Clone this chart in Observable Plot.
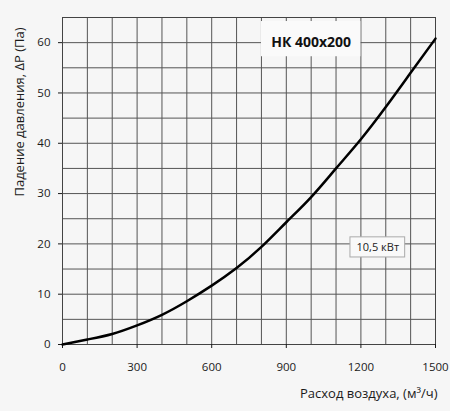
<!DOCTYPE html>
<html><head><meta charset="utf-8">
<script src="https://cdn.jsdelivr.net/npm/d3@7"></script>
<script src="https://cdn.jsdelivr.net/npm/@observablehq/plot@0.6"></script>
<style>
html,body{margin:0;padding:0;background:#f6f6f6;}
svg{background:#f6f6f6;}
</style></head><body>
<div id="chart"></div>
<script>
const flow = [0, 100, 200, 300, 400, 500, 600, 700, 800, 900, 1000, 1100, 1200, 1300, 1400, 1500];
const pressure = [0, 1.0, 2.1, 3.8, 5.9, 8.6, 11.7, 15.2, 19.4, 24.3, 29.3, 35.0, 40.8, 47.2, 54.0, 60.8];
const xTicks = [0, 300, 600, 900, 1200, 1500];
const yTicks = [0, 10, 20, 30, 40, 50, 60];
const xGrid = d3.range(0, 1501, 100);
const yGrid = d3.range(0, 66, 5);
const title = "НК 400x200";
const power = "10,5 кВт";
const xLabel = "Расход воздуха, (м³/ч)";
const yLabel = "Падение давления, ΔP (Па)";

const data = flow.map((f, i) => ({f, p: pressure[i]}));

const chart = Plot.plot({
  width: 450, height: 411,
  marginLeft: 62, marginRight: 15, marginTop: 17, marginBottom: 67,
  style: {fontFamily: "'Open Sans', sans-serif", fontSize: "11.5px", color: "#1a1a1a", background: "#f6f6f6"},
  x: {domain: [0, 1500]},
  y: {domain: [0, 65]},
  marks: [
    Plot.ruleX(xGrid, {stroke: "#555", strokeWidth: 1}),
    Plot.ruleY(yGrid, {stroke: "#555", strokeWidth: 1}),
    Plot.frame({stroke: "#444"}),
    Plot.axisX({ticks: xTicks, tickFormat: d => String(d), tickSize: 4, tickPadding: 14, label: null, fontSize: 11.5}),
    Plot.axisY({ticks: yTicks, tickFormat: d => String(d), tickSize: 4, tickPadding: 8, label: null, fontSize: 11.5}),
    Plot.rect([title], {x1: 800, x2: 1200, y1: 57.2, y2: 64.2, fill: "#fafafa"}),
    Plot.text([title], {x: 1000, y: 60, text: d => d, fontWeight: "bold", fontSize: 14, fill: "#111"}),
    Plot.rect([power], {x1: 1158, x2: 1378, y1: 17.3, y2: 21.3, fill: "#f9f9f9", stroke: "#aaa"}),
    Plot.text([power], {x: 1268, y: 19.3, text: d => d, fontSize: 11, fill: "#222"}),
    Plot.line(data, {x: "f", y: "p", stroke: "#000", strokeWidth: 2.5, curve: "natural"}),
    Plot.text([xLabel], {frameAnchor: "bottom-right", text: d => d, textAnchor: "end", dx: 2, dy: 53, fontSize: 13, fill: "#1a1a1a"}),
    Plot.text([yLabel], {frameAnchor: "top-left", text: d => d, textAnchor: "end", rotate: -90, dx: -48, dy: 10, fontSize: 13, fill: "#1a1a1a"})
  ]
});
document.getElementById("chart").append(chart);
</script>
</body></html>
